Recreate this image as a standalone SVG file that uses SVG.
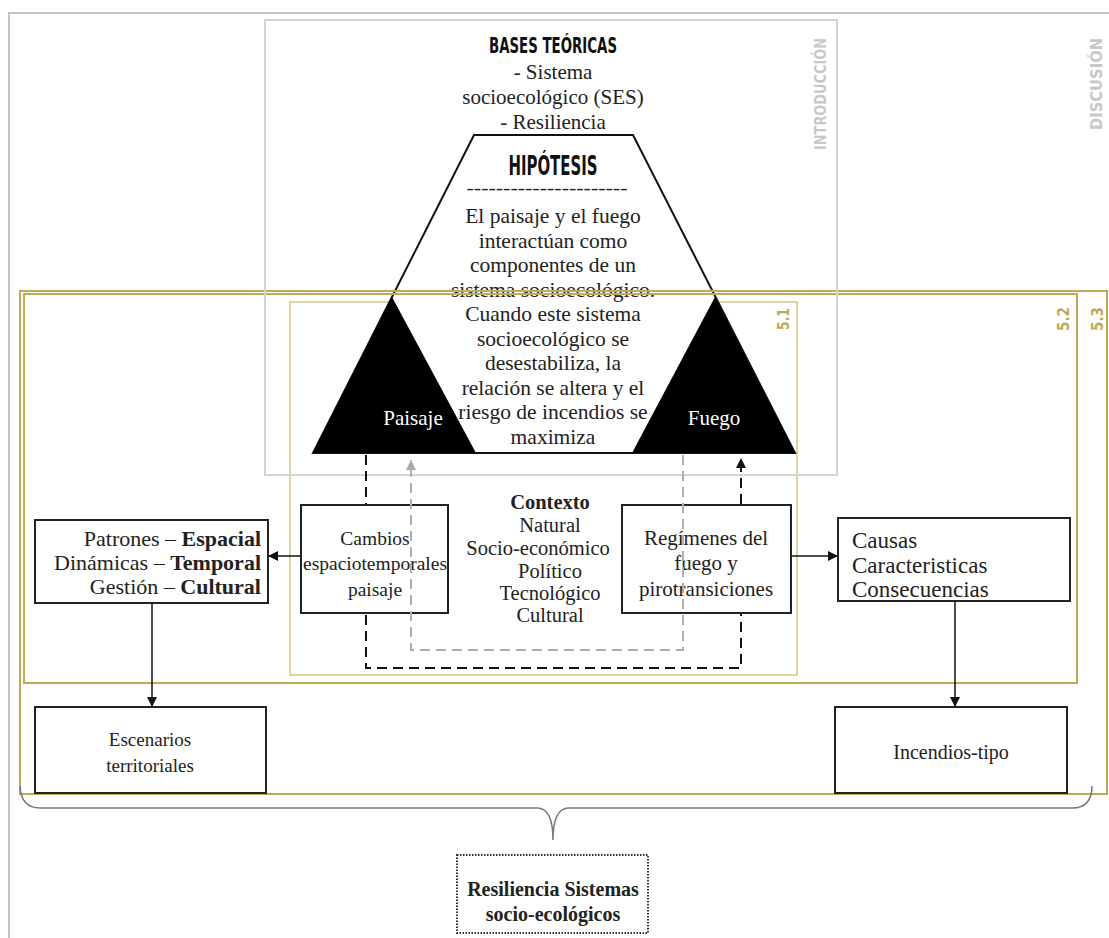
<svg xmlns="http://www.w3.org/2000/svg" width="1109" height="938" viewBox="0 0 1109 938">
<defs>
<marker id="ah" viewBox="0 0 10 10" refX="10" refY="5" markerWidth="10" markerHeight="10" markerUnits="userSpaceOnUse" orient="auto">
<path d="M0,0 L10,5 L0,10 Z" fill="#111"/>
</marker>
<marker id="ahg" viewBox="0 0 10 10" refX="10" refY="5" markerWidth="10" markerHeight="10" markerUnits="userSpaceOnUse" orient="auto">
<path d="M0,0 L10,5 L0,10 Z" fill="#aaa"/>
</marker>
<style>
.serif{font-family:"Liberation Serif","DejaVu Serif",serif;fill:#222}
.cond{font-family:"Liberation Sans Narrow","DejaVu Sans Condensed","DejaVu Sans",sans-serif;font-weight:bold}
.box{fill:#fff;stroke:#222;stroke-width:2}
.gold{fill:none;stroke:#bfaa55;stroke-width:2}
.goldlbl{fill:#bfaa55;font-size:16px}
.conn{fill:none;stroke:#111;stroke-width:1.5}
.dk{fill:none;stroke:#111;stroke-width:2;stroke-dasharray:10,6}
.lg{fill:none;stroke:#b0b0b0;stroke-width:2;stroke-dasharray:10,6}
</style>
</defs>
<rect width="1109" height="938" fill="#fff"/>
<!-- outer frame -->
<path d="M9,938 V13 H1109" fill="none" stroke="#c4c4c4" stroke-width="2"/>

<!-- 5.1 box -->
<g id="sec51">
<rect x="290" y="302" width="507" height="373" fill="none" stroke="#d3c681" stroke-width="1.5"/>
<text class="cond goldlbl" transform="translate(789,330) rotate(-90)" textLength="22" lengthAdjust="spacingAndGlyphs">5.1</text>
</g>

<!-- hypothesis trapezoid -->
<g id="hipotesis">
<path d="M474,135 L633,135 L795,453 L313,453 Z" fill="#fff" stroke="#111" stroke-width="2"/>
<text class="cond" x="553" y="175" font-size="26" text-anchor="middle" fill="#111" textLength="89" lengthAdjust="spacingAndGlyphs">HIPÓTESIS</text>
<text class="serif" x="547" y="194" font-size="16" text-anchor="middle" font-weight="bold" textLength="161" lengthAdjust="spacingAndGlyphs">----------------------</text>
<g class="serif" font-size="21.5" text-anchor="middle">
<text x="553" y="223">El paisaje y el fuego</text>
<text x="553" y="247.5">interactúan como</text>
<text x="553" y="272">componentes de un</text>
<text x="553" y="296.5">sistema socioecológico.</text>
<text x="553" y="321">Cuando este sistema</text>
<text x="553" y="345.5">socioecológico se</text>
<text x="553" y="370">desestabiliza, la</text>
<text x="553" y="394.5">relación se altera y el</text>
<text x="553" y="419">riesgo de incendios se</text>
<text x="553" y="443.5">maximiza</text>
</g>
</g>

<g id="paisaje">
<path d="M392,297 L476,453 L313,453 Z" fill="#000"/>
<text class="serif" x="413" y="425" font-size="21" text-anchor="middle" style="fill:#fff">Paisaje</text>
</g>
<g id="fuego">
<path d="M715,297 L795,453 L632,453 Z" fill="#000"/>
<text class="serif" x="714" y="425" font-size="21" text-anchor="middle" style="fill:#fff">Fuego</text>
</g>

<!-- 5.2 / 5.3 boxes -->
<g id="sec53">
<rect x="20" y="291" width="1087" height="503" class="gold"/>
<text class="cond goldlbl" transform="translate(1103,331) rotate(-90)" textLength="24" lengthAdjust="spacingAndGlyphs">5.3</text>
</g>
<g id="sec52">
<rect x="24" y="294" width="1053" height="389" class="gold"/>
<text class="cond goldlbl" transform="translate(1069,331) rotate(-90)" textLength="24" lengthAdjust="spacingAndGlyphs">5.2</text>
</g>

<!-- introduction -->
<g id="intro">
<rect x="265" y="20" width="572" height="455" fill="none" stroke="#d4d4d4" stroke-width="2"/>
<text class="cond" transform="translate(826,150) rotate(-90)" font-size="16" fill="#c8c8c8" textLength="112" lengthAdjust="spacingAndGlyphs">INTRODUCCIÓN</text>
</g>
<g id="discusion">
<text class="cond" transform="translate(1102,130) rotate(-90)" font-size="16" fill="#c8c8c8" textLength="92" lengthAdjust="spacingAndGlyphs">DISCUSIÓN</text>
</g>

<g id="bases">
<text class="cond" x="553" y="53" font-size="22" text-anchor="middle" fill="#111" textLength="128" lengthAdjust="spacingAndGlyphs">BASES TEÓRICAS</text>
<g class="serif" font-size="21" text-anchor="middle">
<text x="553" y="79">- Sistema</text>
<text x="553" y="104">socioecológico (SES)</text>
<text x="553" y="129">- Resiliencia</text>
</g>
</g>

<!-- connectors -->
<g id="connectors">
<path class="dk" d="M366,455 V668 H741 V458" marker-end="url(#ah)"/>
<line class="conn" x1="301" y1="556" x2="268" y2="556" marker-end="url(#ah)"/>
<line class="conn" x1="791" y1="556" x2="838" y2="556" marker-end="url(#ah)"/>
<line class="conn" x1="152" y1="603" x2="152" y2="707" marker-end="url(#ah)"/>
<line class="conn" x1="955" y1="601" x2="955" y2="707" marker-end="url(#ah)"/>
<path d="M20,786 Q21,808 40,808 H538 Q553,809 553,840 Q553,809 568,808 H1072 Q1092,808 1092,786" fill="none" stroke="#777" stroke-width="1.5"/>
</g>

<g id="contexto" class="serif" font-size="20.5" text-anchor="middle">
<text x="550" y="509" font-weight="bold">Contexto</text>
<text x="550" y="532">Natural</text>
<text x="538" y="555">Socio-económico</text>
<text x="550" y="578">Político</text>
<text x="550" y="600">Tecnológico</text>
<text x="550" y="622">Cultural</text>
</g>

<g id="cambios">
<rect class="box" x="301" y="505" width="147" height="108"/>
<g class="serif" font-size="19.5" text-anchor="middle">
<text x="375" y="545">Cambios</text>
<text x="375" y="570">espaciotemporales</text>
<text x="375" y="596">paisaje</text>
</g>
</g>
<g id="regimenes">
<rect class="box" x="622" y="505" width="169" height="108"/>
<g class="serif" font-size="21" text-anchor="middle">
<text x="706" y="545">Regímenes del</text>
<text x="706" y="570">fuego y</text>
<text x="706" y="596">pirotransiciones</text>
</g>
</g>
<path class="lg" d="M683,455 V650 H411 V460" marker-end="url(#ahg)"/>

<g id="patrones">
<rect class="box" x="35" y="520" width="233" height="83"/>
<g class="serif" font-size="22" text-anchor="end">
<text x="261" y="546">Patrones – <tspan font-weight="bold">Espacial</tspan></text>
<text x="261" y="570">Dinámicas – <tspan font-weight="bold">Temporal</tspan></text>
<text x="261" y="594">Gestión – <tspan font-weight="bold">Cultural</tspan></text>
</g>
</g>
<g id="causas">
<rect class="box" x="838" y="518" width="232" height="83"/>
<g class="serif" font-size="23">
<text x="852" y="548">Causas</text>
<text x="852" y="573">Caracteristicas</text>
<text x="852" y="597">Consecuencias</text>
</g>
</g>
<g id="escenarios">
<rect class="box" x="35" y="707" width="231" height="86"/>
<g class="serif" font-size="19" text-anchor="middle">
<text x="150" y="746">Escenarios</text>
<text x="150" y="772">territoriales</text>
</g>
</g>
<g id="incendios">
<rect class="box" x="835" y="707" width="232" height="86"/>
<text class="serif" x="951" y="759" font-size="20" text-anchor="middle">Incendios-tipo</text>
</g>
<g id="resiliencia">
<rect x="457" y="855" width="191" height="78" fill="#fff" stroke="#333" stroke-width="2" stroke-dasharray="1.5,1.5"/>
<g class="serif" font-size="20" font-weight="bold" text-anchor="middle">
<text x="553" y="896">Resiliencia Sistemas</text>
<text x="553" y="921">socio-ecológicos</text>
</g>
</g>
</svg>
